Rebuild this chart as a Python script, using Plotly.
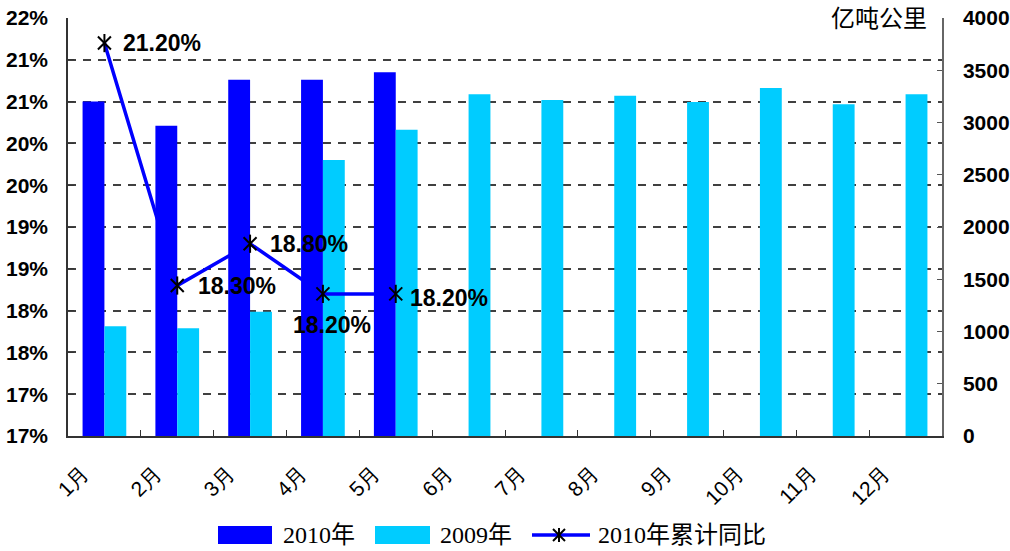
import plotly.graph_objects as go

# ---- data ----
months = ["1月", "2月", "3月", "4月", "5月", "6月", "7月", "8月", "9月", "10月", "11月", "12月"]
volume_2010 = [3200, 2970, 3410, 3410, 3480]
volume_2009 = [1050, 1030, 1190, 2640, 2930, 3270, 3215, 3255, 3195, 3330, 3175, 3270]
yoy_2010 = [21.2, 18.3, 18.8, 18.2, 18.2]

pct_tick_vals = [16.5, 17.0, 17.5, 18.0, 18.5, 19.0, 19.5, 20.0, 20.5, 21.0, 21.5]
pct_tick_text = ["17%", "17%", "18%", "18%", "19%", "19%", "20%", "20%", "21%", "21%", "22%"]
vol_tick_vals = [0, 500, 1000, 1500, 2000, 2500, 3000, 3500, 4000]

name_2010 = "2010年"
name_2009 = "2009年"
name_yoy = "2010年累计同比"
unit_title = "亿吨公里"

BLUE = "#0000FF"
CYAN = "#00CCFF"
AXIS = "#333333"
SANS = "Liberation Sans, Arial, sans-serif"
SERIF = "Liberation Serif, Noto Sans CJK SC, serif"
CJK = "Noto Sans CJK SC, sans-serif"

fig = go.Figure()

# bars on the volume axis (drawn first, underneath the line)
fig.add_trace(go.Bar(x=months[:len(volume_2010)], y=volume_2010, name=name_2010,
                     marker=dict(color=BLUE, line=dict(width=0)), yaxis="y", showlegend=False))
fig.add_trace(go.Bar(x=months, y=volume_2009, name=name_2009,
                     marker=dict(color=CYAN, line=dict(width=0)), yaxis="y", showlegend=False))

# cumulative growth line on the percent axis
fig.add_trace(go.Scatter(x=months[:len(yoy_2010)], y=yoy_2010, name=name_yoy, mode="lines",
                         line=dict(color=BLUE, width=3.5), yaxis="y2", showlegend=False,
                         cliponaxis=False))
for sym in ("x-thin-open", "line-ns-open"):
    fig.add_trace(go.Scatter(x=months[:len(yoy_2010)], y=yoy_2010, mode="markers",
                             marker=dict(symbol=sym, size=13, color="black",
                                         line=dict(color="black", width=2)),
                             yaxis="y2", showlegend=False, cliponaxis=False, hoverinfo="skip"))

# value labels for the growth line
label_offsets = [(17, 0, "left"), (19, 0, "left"), (18, 0, "left"), (9, -31, "center"), (12, -4, "left")]
annotations = []
for m, v, (dx, dy, anchor) in zip(months, yoy_2010, label_offsets):
    annotations.append(dict(x=m, y=v, xref="x", yref="y2", text=f"{v:.2f}%",
                            showarrow=False, xanchor=anchor, yanchor="middle",
                            xshift=dx, yshift=dy,
                            font=dict(family=SANS, size=23, color="black", weight="bold")))

# ---- layout geometry (pixels) ----
L, T, W, H = 68, 18, 874, 418


def px(xp):
    return (xp - L) / W


def py(yp):
    return (T + H - yp) / H


# unit title at the top right of the plot
annotations.append(dict(x=px(929), y=py(17), xref="paper", yref="paper", text=unit_title,
                        showarrow=False, xanchor="right", yanchor="middle",
                        font=dict(family=CJK, size=24, color="black")))

# ---- custom legend row ----
shapes = []
leg_y = 535
shapes.append(dict(type="rect", xref="paper", yref="paper", x0=px(218), x1=px(272),
                   y0=py(526), y1=py(544), fillcolor=BLUE, line=dict(width=0)))
shapes.append(dict(type="rect", xref="paper", yref="paper", x0=px(375), x1=px(430),
                   y0=py(526), y1=py(544), fillcolor=CYAN, line=dict(width=0)))
shapes.append(dict(type="line", xref="paper", yref="paper", x0=px(532), x1=px(590),
                   y0=py(leg_y), y1=py(leg_y), line=dict(color=BLUE, width=3.5)))
# asterisk marker on the legend line
for (ax0, ay0, ax1, ay1) in [(-6, -6, 6, 6), (-6, 6, 6, -6), (0, -7, 0, 7)]:
    shapes.append(dict(type="line", xref="paper", yref="paper",
                       xsizemode="pixel", ysizemode="pixel",
                       xanchor=px(559), yanchor=py(leg_y),
                       x0=ax0, x1=ax1, y0=ay0, y1=ay1,
                       line=dict(color="black", width=2)))

for text, x0 in [(name_2010, 281), (name_2009, 438), (name_yoy, 596)]:
    annotations.append(dict(x=px(x0), y=py(leg_y), xref="paper", yref="paper", text=text,
                            showarrow=False, xanchor="left", yanchor="middle",
                            font=dict(family=SERIF, size=24, color="black")))

fig.update_layout(
    width=1010, height=551,
    margin=dict(l=L, r=1010 - L - W, t=T, b=551 - T - H, autoexpand=False),
    paper_bgcolor="white", plot_bgcolor="white",
    barmode="group", bargap=0.4, bargroupgap=0,
    showlegend=False,
    xaxis=dict(type="category", categoryorder="array", categoryarray=months,
               range=[-0.5, 11.5], tickangle=-45, tickson="boundaries",
               ticks="inside", ticklen=6, tickcolor=AXIS, automargin=False,
               ticklabelshift=-22, ticklabelstandoff=15,
               showline=True, linecolor=AXIS, linewidth=1.5, showgrid=False,
               tickfont=dict(family=SANS, size=21, color="black")),
    yaxis=dict(side="right", range=[0, 4000], tickvals=vol_tick_vals,
               ticks="inside", ticklen=5, tickcolor="#555555", automargin=False,
               showline=True, linecolor="#666666", linewidth=1.5,
               showgrid=False, zeroline=False, ticklabelstandoff=15,
               tickfont=dict(family=SANS, size=21, color="black", weight="bold")),
    yaxis2=dict(side="left", overlaying="y", range=[16.5, 21.5], automargin=False,
                tickvals=pct_tick_vals, ticktext=pct_tick_text,
                ticks="inside", ticklen=6, tickcolor=AXIS,
                showline=True, linecolor=AXIS, linewidth=1.5,
                showgrid=True, gridcolor="#404040", gridwidth=1.5, griddash="8px,7px",
                zeroline=False, ticklabelstandoff=14,
                tickfont=dict(family=SANS, size=21, color="black", weight="bold")),
    annotations=annotations,
    shapes=shapes,
)

fig.write_html("out.html")
